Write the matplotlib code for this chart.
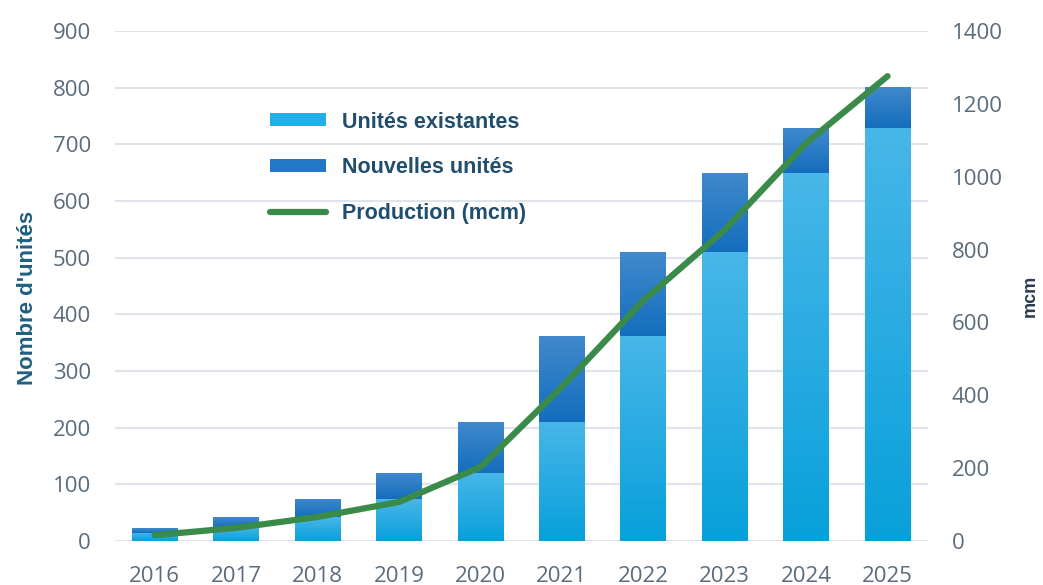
import numpy as np
import matplotlib.pyplot as plt
from matplotlib.patches import Patch
from matplotlib.lines import Line2D
from matplotlib.colors import LinearSegmentedColormap

years = ['2016', '2017', '2018', '2019', '2020', '2021', '2022', '2023', '2024', '2025']
existing_units = [15, 23, 42, 74, 120, 210, 362, 510, 650, 728]
new_units = [8, 19, 32, 46, 90, 152, 148, 140, 78, 74]
production_mcm = [16, 36, 66, 107, 203, 423, 660, 854, 1092, 1276]

left_ticks = [0, 100, 200, 300, 400, 500, 600, 700, 800, 900]
right_ticks = [0, 200, 400, 600, 800, 1000, 1200, 1400]

tick_color = '#5b6b7b'
label_color = '#1f5f80'


def gradient_fill(ax, bars, top_color, bottom_color):
    cmap = LinearSegmentedColormap.from_list('g', [bottom_color, top_color])
    grad = np.linspace(0, 1, 64).reshape(-1, 1)
    for b in bars:
        x0, y0 = b.get_x(), b.get_y()
        w, h = b.get_width(), b.get_height()
        b.set_facecolor('none')
        im = ax.imshow(grad, cmap=cmap, aspect='auto', origin='lower',
                       extent=(x0, x0 + w, y0, y0 + h), zorder=2)
        im.set_clip_path(b)


fig, ax = plt.subplots(figsize=(10.43, 5.85), dpi=100)
fig.subplots_adjust(left=0.110, right=0.890, bottom=0.0752, top=0.947)

x = np.arange(len(years))
width = 0.56

b1 = ax.bar(x, existing_units, width, color='#1aa8e0', zorder=2, linewidth=0)
b2 = ax.bar(x, new_units, width, bottom=existing_units, color='#2a7cc6', zorder=2, linewidth=0)
gradient_fill(ax, b1, '#48b6e8', '#08a0da')
gradient_fill(ax, b2, '#4189cc', '#146ebd')

ax.set_xlim(-0.49, 9.5)
ax.set_ylim(0, 900)
ax.set_yticks(left_ticks)
ax.set_xticks(x)
ax.set_xticklabels(years)
ax.grid(axis='y', color='#dfe4ea', linewidth=1.5, zorder=0)
ax.set_axisbelow(True)
for s in ax.spines.values():
    s.set_visible(False)
ax.tick_params(axis='both', length=0, labelsize=16, labelcolor=tick_color)
ax.tick_params(axis='y', pad=17)
ax.tick_params(axis='x', pad=18)
for t in ax.get_xticklabels() + ax.get_yticklabels():
    t.set_fontfamily('Open Sans')
ax.set_ylabel("Nombre d'unités", fontsize=16, fontweight='bold', color=label_color,
              fontfamily='Liberation Sans')
ax.yaxis.set_label_coords(-0.094, 0.477)

ax2 = ax.twinx()
ax2.plot(x, production_mcm, color='#3a8a4a', linewidth=4.5, solid_capstyle='round',
         solid_joinstyle='round', zorder=5)
ax2.set_ylim(0, 1400)
ax2.set_yticks(right_ticks)
for s in ax2.spines.values():
    s.set_visible(False)
ax2.tick_params(axis='y', length=0, labelsize=16, labelcolor=tick_color, pad=17)
for t in ax2.get_yticklabels():
    t.set_fontfamily('Open Sans')
fig.text(1030 / 1043, 1 - 296 / 585, 'mcm', rotation=90, ha='center', va='center',
         fontsize=13, fontweight='bold', color='#2a3a50', fontfamily='Liberation Sans')

handles = [
    Patch(facecolor='#22b0e8', edgecolor='none'),
    Patch(facecolor='#2277c6', edgecolor='none'),
    Line2D([0], [0], color='#3a8a4a', linewidth=4.5, solid_capstyle='round'),
]
labels = ['Unités existantes', 'Nouvelles unités', 'Production (mcm)']
leg = ax2.legend(handles, labels, loc='upper left', bbox_to_anchor=(0.167, 0.88),
                 frameon=False, handlelength=2.6, handleheight=0.55,
                 labelspacing=1.15, handletextpad=0.75,
                 prop={'family': 'Liberation Sans', 'weight': 'bold', 'size': 15.5})
for t in leg.get_texts():
    t.set_color('#1f4e6e')

fig.savefig('out.png', dpi=100)
